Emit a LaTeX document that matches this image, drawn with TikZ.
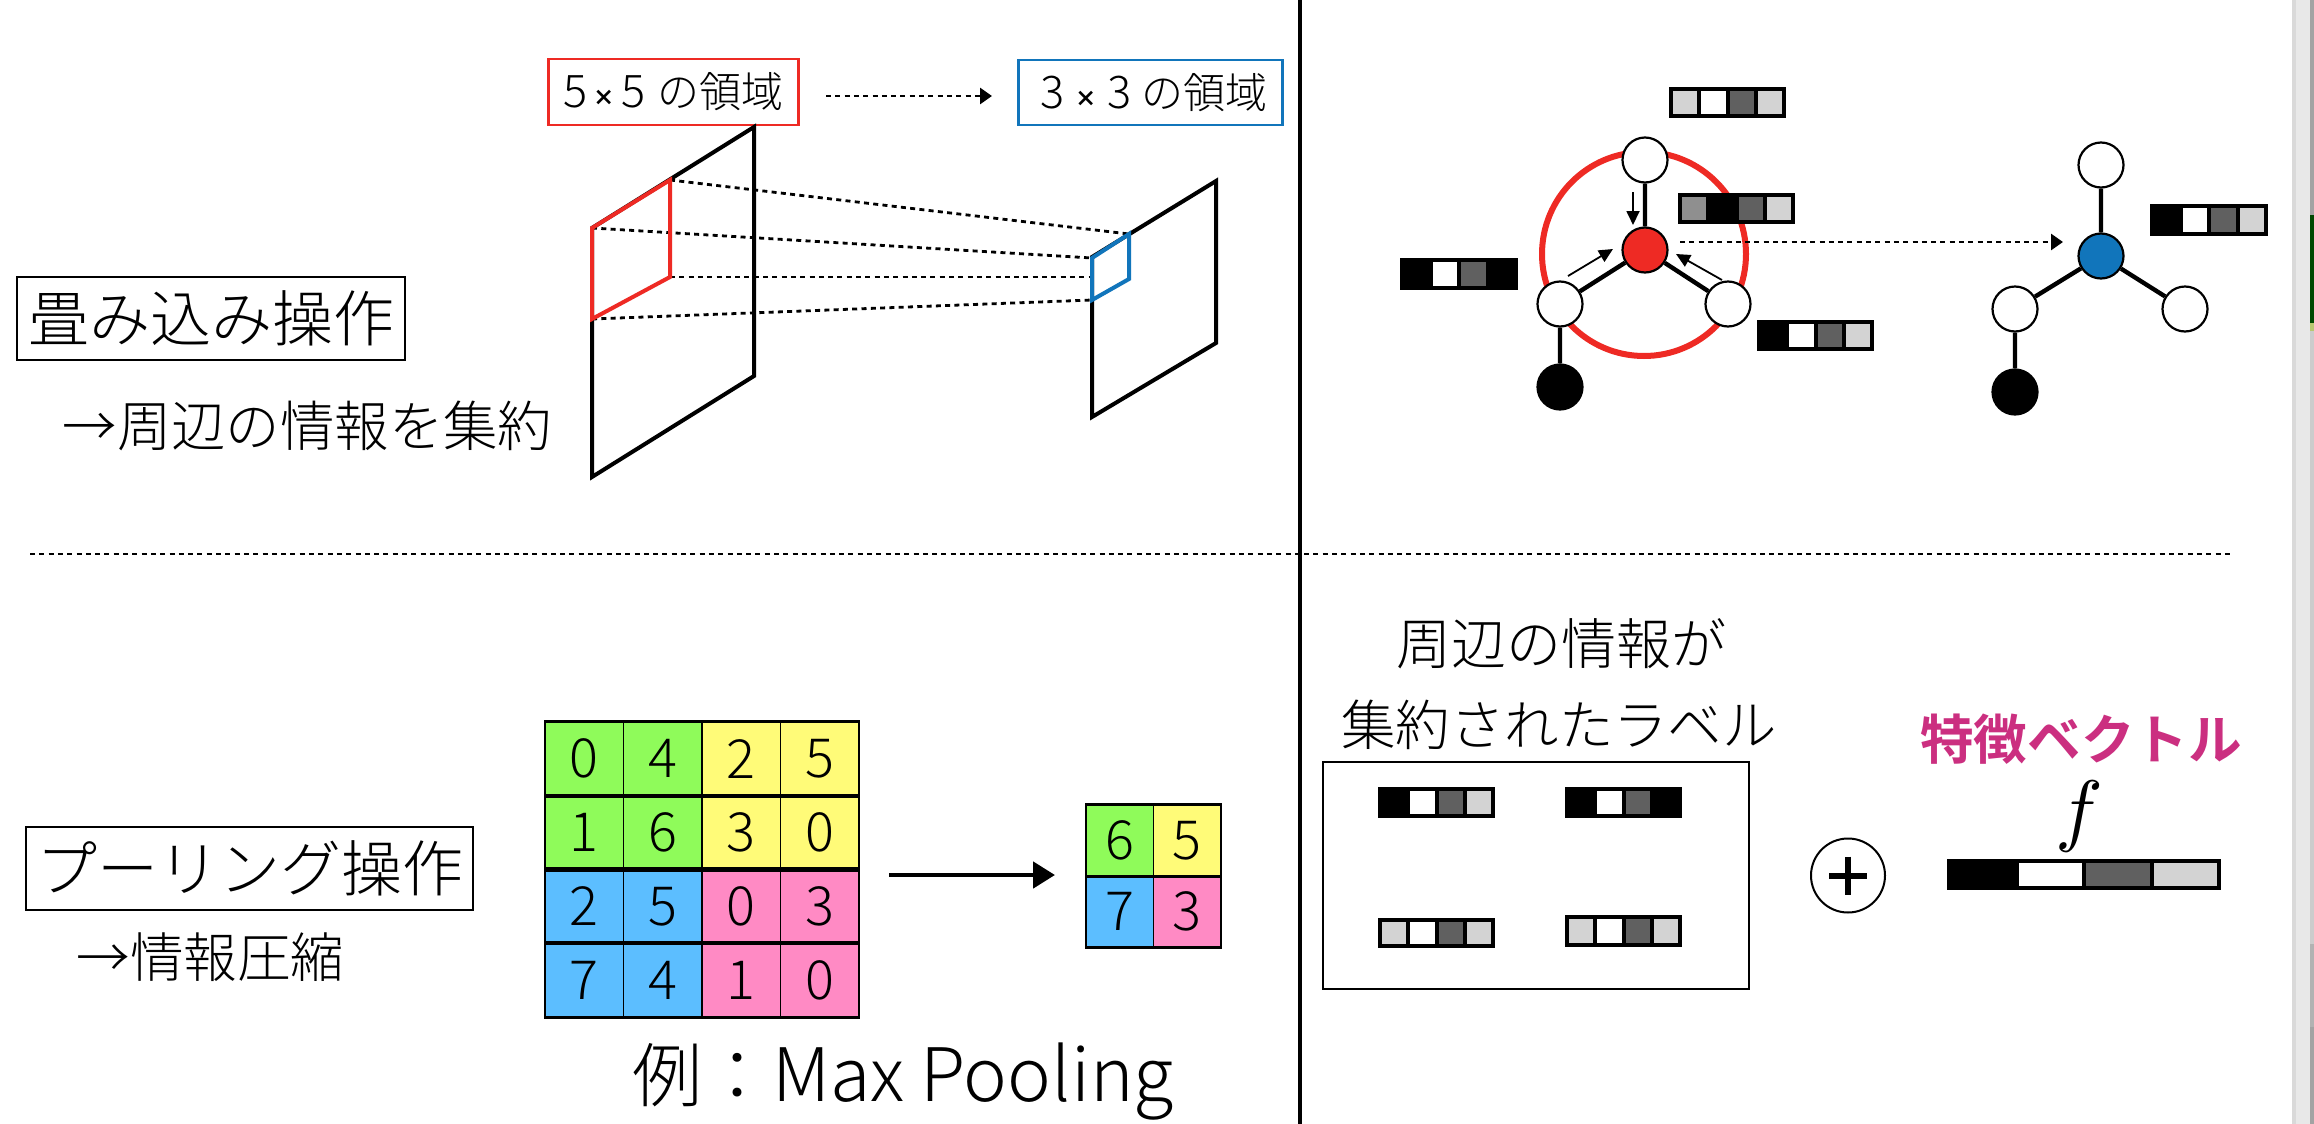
\documentclass[tikz,border=0pt]{standalone}
\usepackage{fontspec}
\IfFontExistsTF{Noto Sans CJK JP Light}{\setmainfont{Noto Sans CJK JP Light}[BoldFont={Noto Sans CJK JP Bold}]}{\setmainfont{Noto Sans CJK JP}}
\newfontfamily\hv{TeX Gyre Heros}
\usetikzlibrary{arrows.meta}
\definecolor{rd}{HTML}{EE2A24}
\definecolor{bl}{HTML}{1175BB}
\definecolor{gA}{HTML}{8FFB5A}
\definecolor{yA}{HTML}{FFFB78}
\definecolor{cA}{HTML}{5CBEFF}
\definecolor{pA}{HTML}{FF8AC4}
\definecolor{mg}{HTML}{CB2F80}
\definecolor{dk}{HTML}{606060}
\definecolor{lt}{HTML}{D3D3D3}
\definecolor{md}{HTML}{8F8F8F}
\newcommand\fsz[1]{\fontsize{#1}{#1}\selectfont}
% \vecbar{x}{y}{w}{h}{c1}{c2}{c3}{c4}
\newcommand\vecbar[8]{%
  \fill[black] (#1,#2) rectangle ++(#3,#4);
  \pgfmathsetmacro\pt{(#3-4)/4}
  \fill[#5] ({#1+2+2},{#2+4}) rectangle ({#1+2+\pt-2},{#2+#4-4});
  \fill[#6] ({#1+2+\pt+2},{#2+4}) rectangle ({#1+2+2*\pt-2},{#2+#4-4});
  \fill[#7] ({#1+2+2*\pt+2},{#2+4}) rectangle ({#1+2+3*\pt-2},{#2+#4-4});
  \fill[#8] ({#1+2+3*\pt+2},{#2+4}) rectangle ({#1+2+4*\pt-2},{#2+#4-4});
}
\tikzset{
  x=0.5pt,y=-0.5pt,
  txt/.style={inner sep=0pt,outer sep=0pt,text=black},
  labelbox/.style={draw=black,line width=1.25pt,fill=white,inner sep=0pt,anchor=center},
  sheet/.style={draw=black,line width=2pt,line join=miter},
  atom/.style={circle,draw=black,line width=1.1pt,minimum size=22.5pt,inner sep=0pt,fill=white},
  bond/.style={line width=2.2pt},
  dotline/.style={line width=1.4pt,dash pattern=on 2.5pt off 2.15pt},
  dotarrow/.style={dotline,-{Triangle[length=6pt,width=8pt]}},
  smallarrow/.style={line width=.9pt,-{Triangle[length=7pt,width=6.5pt]}},
  cell/.style={draw=black,line width=.7pt,minimum width=39.25pt,minimum height=36.9pt,inner sep=0pt,font=\fsz{27}},
  scell/.style={draw=black,line width=.7pt,minimum width=33.75pt,minimum height=35.5pt,inner sep=0pt,font=\fsz{27}},
  rowline/.style={line width=1.3pt},
}
\begin{document}
\begin{tikzpicture}
\useasboundingbox (0,0) rectangle (2314,1124);
% window strip
\fill[white] (0,0) rectangle (2314,1124);
\fill[black!9] (2292,0) rectangle (2310,1124);
\fill[black!15] (2292,0) rectangle (2296,1124);
\fill[black!36] (2310,0) rectangle (2314,1124);
\fill[black!60!green!70!black] (2310,215) rectangle (2314,323);
\fill[olive!70!green!50!white] (2310,323) rectangle (2314,331);
\fill[black!20] (2310,331) rectangle (2314,944);
\fill[black!30] (2310,944) rectangle (2314,1027);
% dividers
\coordinate (vt) at (1300,0); \coordinate (vb) at (1300,1124);
\draw[line width=2pt] (vt) -- (vb);
\coordinate (hl) at (30,554); \coordinate (hr) at (2230,554);
\draw[dotline] (hl) -- (hr);

% top left
\node[labelbox,draw=rd,minimum width=125pt,minimum height=33pt,font=\fsz{21}] (rb) at (673.5,92) {{\fsz{22.5}5\kern2.5pt{\hv\fsz{20}×}\kern2.5pt5}\kern6pt の領域};
\node[labelbox,draw=bl,minimum width=132pt,minimum height=32.5pt,font=\fsz{21}] (bb) at (1150.5,92.5) {\hspace*{3.5pt}{\fsz{22.5}3\kern5pt{\hv\fsz{20}×}\kern5pt3}\kern5pt の領域};
\coordinate (da) at (826,96); \coordinate (db) at (992,96);
\draw[dotarrow] (da) -- (db);
\coordinate (s1) at (592,228); \coordinate (s2) at (754,127); \coordinate (s3) at (754,376); \coordinate (s4) at (592,477);
\draw[sheet] (s1) -- (s2) -- (s3) -- (s4) -- cycle;
\coordinate (t1) at (1092,257); \coordinate (t2) at (1216,181); \coordinate (t3) at (1216,343); \coordinate (t4) at (1092,417);
\draw[sheet] (t1) -- (t2) -- (t3) -- (t4) -- cycle;
\coordinate (r1) at (592,228); \coordinate (r2) at (670,180); \coordinate (r3) at (670,277); \coordinate (r4) at (592,319);
\coordinate (u1) at (1092,258); \coordinate (u2) at (1129,234); \coordinate (u3) at (1129,279); \coordinate (u4) at (1092,300);
\draw[dotline] (r2) -- (u2);
\draw[dotline] (r1) -- (u1);
\draw[dotline] (r3) -- (u1 |- r3);
\draw[dotline] (r4) -- (u4);
\draw[rd,line width=2pt] (r1) -- (r2) -- (r3) -- (r4) -- cycle;
\draw[bl,line width=2pt] (u1) -- (u2) -- (u3) -- (u4) -- cycle;
\node[labelbox,minimum width=194pt,minimum height=41.5pt,font=\fsz{30.5},line width=1.2pt] (conv) at (211,318.5) {畳み込み操作};
\node[txt,font=\fsz{27.2}] (convn) at (307.5,426) {→周辺の情報を集約};

% top right graph
\draw[rd,line width=3pt] (1644,254) circle (102);
\node[atom,fill=rd] (c) at (1645,250) {};
\node[atom] (n1) at (1645,160) {};
\node[atom] (n2) at (1560,304) {};
\node[atom] (n3) at (1728,304) {};
\node[atom,fill=black] (n4) at (1560,387) {};
\draw[bond] (c) -- (n1) (c) -- (n2) (c) -- (n3) (n2) -- (n4);
\coordinate (a1s) at (1633,192); \coordinate (a1e) at (1633,225);
\coordinate (a2s) at (1568,276); \coordinate (a2e) at (1613,249);
\coordinate (a3s) at (1722,280); \coordinate (a3e) at (1676,254);
\draw[smallarrow] (a1s) -- (a1e);
\draw[smallarrow] (a2s) -- (a2e);
\draw[smallarrow] (a3s) -- (a3e);
\vecbar{1669}{87}{117}{31}{lt}{white}{dk}{lt}
\vecbar{1678}{193}{117}{31}{md}{black}{dk}{lt}
\vecbar{1400}{258}{118}{32}{black}{white}{dk}{black}
\vecbar{1757}{320}{117}{31}{black}{white}{dk}{lt}
\node[atom,fill=bl] (d) at (2101,256) {};
\node[atom] (m1) at (2101,165) {};
\node[atom] (m2) at (2015,309) {};
\node[atom] (m3) at (2185,309) {};
\node[atom,fill=black] (m4) at (2015,392) {};
\draw[bond] (d) -- (m1) (d) -- (m2) (d) -- (m3) (m2) -- (m4);
\vecbar{2150}{204}{118}{32}{black}{white}{dk}{lt}
\coordinate (ga) at (1680,242); \coordinate (gb) at (2063,242);
\draw[dotarrow] (ga) -- (gb);

% bottom left
\node[labelbox,minimum width=223.5pt,minimum height=41.5pt,font=\fsz{30.5},line width=1.2pt] (pool) at (249.5,868.5) {プーリング操作};
\node[txt,font=\fsz{26.8}] (pooln) at (210.5,957) {→情報圧縮};
\foreach \r/\rown/\vals/\cs in {0/a/{0,4,2,5}/{gA,gA,yA,yA},1/b/{1,6,3,0}/{gA,gA,yA,yA},2/c/{2,5,0,3}/{cA,cA,pA,pA},3/d/{7,4,1,0}/{cA,cA,pA,pA}}{
  \foreach \v [count=\i from 0] in \vals {
    \foreach \cc [count=\j from 0] in \cs {
      \ifnum\i=\j
        \node[cell,fill=\cc] (g\rown\i) at ({545+78.5*(\i+.5)},{722+73.75*(\r+.5)}) {\v};
      \fi
    }
  }
}
\foreach \rw in {a,b,c,d}{
  \draw[rowline] (g\rw0.north west) -- (g\rw3.north east);
  \draw[rowline] (g\rw0.south west) -- (g\rw3.south east);
}
\node[scell,fill=gA] (h1) at (1119.75,840.5) {6};
\node[scell,fill=yA] (h2) at (1187.25,840.5) {5};
\node[scell,fill=cA] (h3) at (1119.75,911.5) {7};
\node[scell,fill=pA] (h4) at (1187.25,911.5) {3};
\draw[rowline] (h1.north west) -- (h2.north east);
\draw[rowline] (h1.south west) -- (h2.south east);
\draw[rowline] (h3.south west) -- (h4.south east);
\coordinate (pa) at (889,875); \coordinate (pb) at (1055,875);
\draw[line width=2.4pt,-{Triangle[length=11pt,width=13pt]}] (pa) -- (pb);
\node[txt,font=\fsz{35},anchor=west] (ex) at (632,1082) {例：{\fsz{36.9}Max Pooling}};

% bottom right
\node[txt,font=\fsz{27.5}] (s1t) at (1561,644) {周辺の情報が};
\node[txt,font=\fsz{27.2}] (s2t) at (1559,725) {集約されたラベル};
\node[draw=black,line width=1.2pt,minimum width=213pt,minimum height=113.5pt,inner sep=0pt] (lb) at (1536,875.5) {};
\vecbar{1378}{787}{117}{31}{black}{white}{dk}{lt}
\vecbar{1565}{787}{117}{31}{black}{white}{dk}{black}
\vecbar{1378}{918}{117}{30}{lt}{white}{dk}{lt}
\vecbar{1565}{915}{117}{32}{lt}{white}{dk}{lt}
\node[circle,draw=black,line width=1pt,minimum size=37pt,inner sep=0pt] (pl) at (1848,875.5) {};
\draw[line width=3pt] (1829,875.5) -- (1867,875.5) (1848,856.5) -- (1848,894.5);
\node[txt,font=\fsz{26.8}\bfseries,text=mg] (fv) at (2081,739) {特徴ベクトル};
\node[txt,scale=4] (ff) at (2079,816) {$f$};
\vecbar{1947}{859}{274}{31}{black}{white}{dk}{lt}
\end{tikzpicture}
\end{document}
